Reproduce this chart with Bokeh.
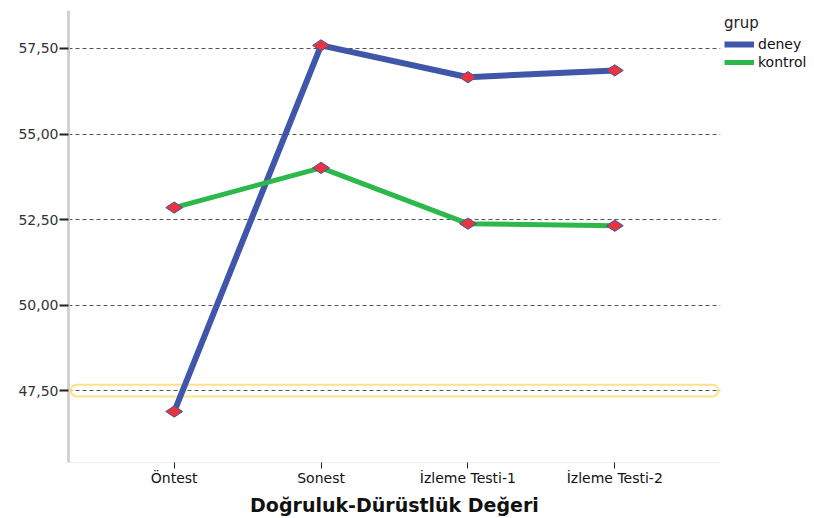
from bokeh.plotting import figure
from bokeh.models import (FactorRange, Range1d, FixedTicker, CustomJSTickFormatter,
                          Legend, LegendItem, BoxAnnotation)
from bokeh.embed import file_html
from bokeh.resources import INLINE
import math

categories = ["Öntest", "Sonest", "İzleme Testi-1", "İzleme Testi-2"]
deney = [46.89, 57.59, 56.66, 56.86]
kontrol = [52.85, 54.01, 52.38, 52.32]
y_ticks = [47.5, 50.0, 52.5, 55.0, 57.5]

FONT = "DejaVu Sans"
BLUE = "#3F56A9"
GREEN = "#2DB84B"
RED = "#E8343C"

p = figure(x_range=FactorRange(factors=categories, range_padding=0.22, range_padding_units="absolute"),
           y_range=Range1d(45.4, 58.61),
           frame_width=652, frame_height=452,
           min_border_left=68, min_border_top=10, min_border_bottom=56, min_border_right=0,
           output_backend="svg", toolbar_location=None)
p.outline_line_color = None
p.xgrid.grid_line_color = None
p.ygrid.ticker = FixedTicker(ticks=y_ticks)
p.ygrid.grid_line_color = "#555555"
p.ygrid.grid_line_dash = "4 3"
p.ygrid.grid_line_width = 1

# highlight around the 47,50 gridline
hl = BoxAnnotation(bottom=47.33, top=47.67, left=-0.205, right=4.205,
                   fill_color=None, line_color="#FFE189", line_alpha=1.0, line_width=2,
                   border_radius=6, level="underlay")
p.add_layout(hl)

r1 = p.line(categories, deney, line_color=BLUE, line_width=6)
r2 = p.line(categories, kontrol, line_color=GREEN, line_width=5)
p.scatter(categories, deney, marker="diamond", size=17, angle=math.pi / 2,
          fill_color=RED, line_color=BLUE, line_width=1)
p.scatter(categories, kontrol, marker="diamond", size=17, angle=math.pi / 2,
          fill_color=RED, line_color=BLUE, line_width=1)

# y axis
p.yaxis.ticker = FixedTicker(ticks=y_ticks)
p.yaxis.formatter = CustomJSTickFormatter(code="return tick.toFixed(2).replace('.', ',');")
p.yaxis.axis_line_color = "#d2d2d2"
p.yaxis.axis_line_width = 3
p.yaxis.major_tick_line_color = "#222222"
p.yaxis.major_tick_line_width = 2
p.yaxis.major_tick_out = 9
p.yaxis.major_tick_in = 0
p.yaxis.minor_tick_line_color = None
p.yaxis.major_label_standoff = 1
p.yaxis.major_label_text_font = FONT
p.yaxis.major_label_text_font_size = "14px"
p.yaxis.major_label_text_color = "#333333"

# x axis
p.xaxis.axis_line_color = "#eeeeee"
p.xaxis.major_tick_line_color = "#222222"
p.xaxis.major_tick_out = 6
p.xaxis.major_tick_in = 0
p.xaxis.major_label_standoff = 1
p.xaxis.major_label_text_font = FONT
p.xaxis.major_label_text_font_size = "14px"
p.xaxis.major_label_text_color = "#111111"
p.xaxis.axis_label = "Doğruluk-Dürüstlük Değeri"
p.xaxis.axis_label_text_font = FONT
p.xaxis.axis_label_text_font_size = "19px"
p.xaxis.axis_label_text_font_style = "bold"
p.xaxis.axis_label_text_color = "#111111"
p.xaxis.axis_label_standoff = 5

legend = Legend(items=[LegendItem(label="deney", renderers=[r1]),
                       LegendItem(label="kontrol", renderers=[r2])],
                title="grup", location="top_left")
legend.title_text_font = FONT
legend.title_text_font_size = "15px"
legend.title_text_font_style = "normal"
legend.title_text_color = "#222222"
legend.label_text_font = FONT
legend.label_text_font_size = "14px"
legend.label_text_color = "#111111"
legend.glyph_width = 30
legend.glyph_height = 14
legend.label_height = 14
legend.spacing = 2
legend.label_standoff = 4
legend.padding = 2
legend.margin = 4
legend.background_fill_color = None
legend.border_line_color = None
legend.title_standoff = 4
p.add_layout(legend, "right")

open("out.html", "w").write(file_html(p, INLINE))
